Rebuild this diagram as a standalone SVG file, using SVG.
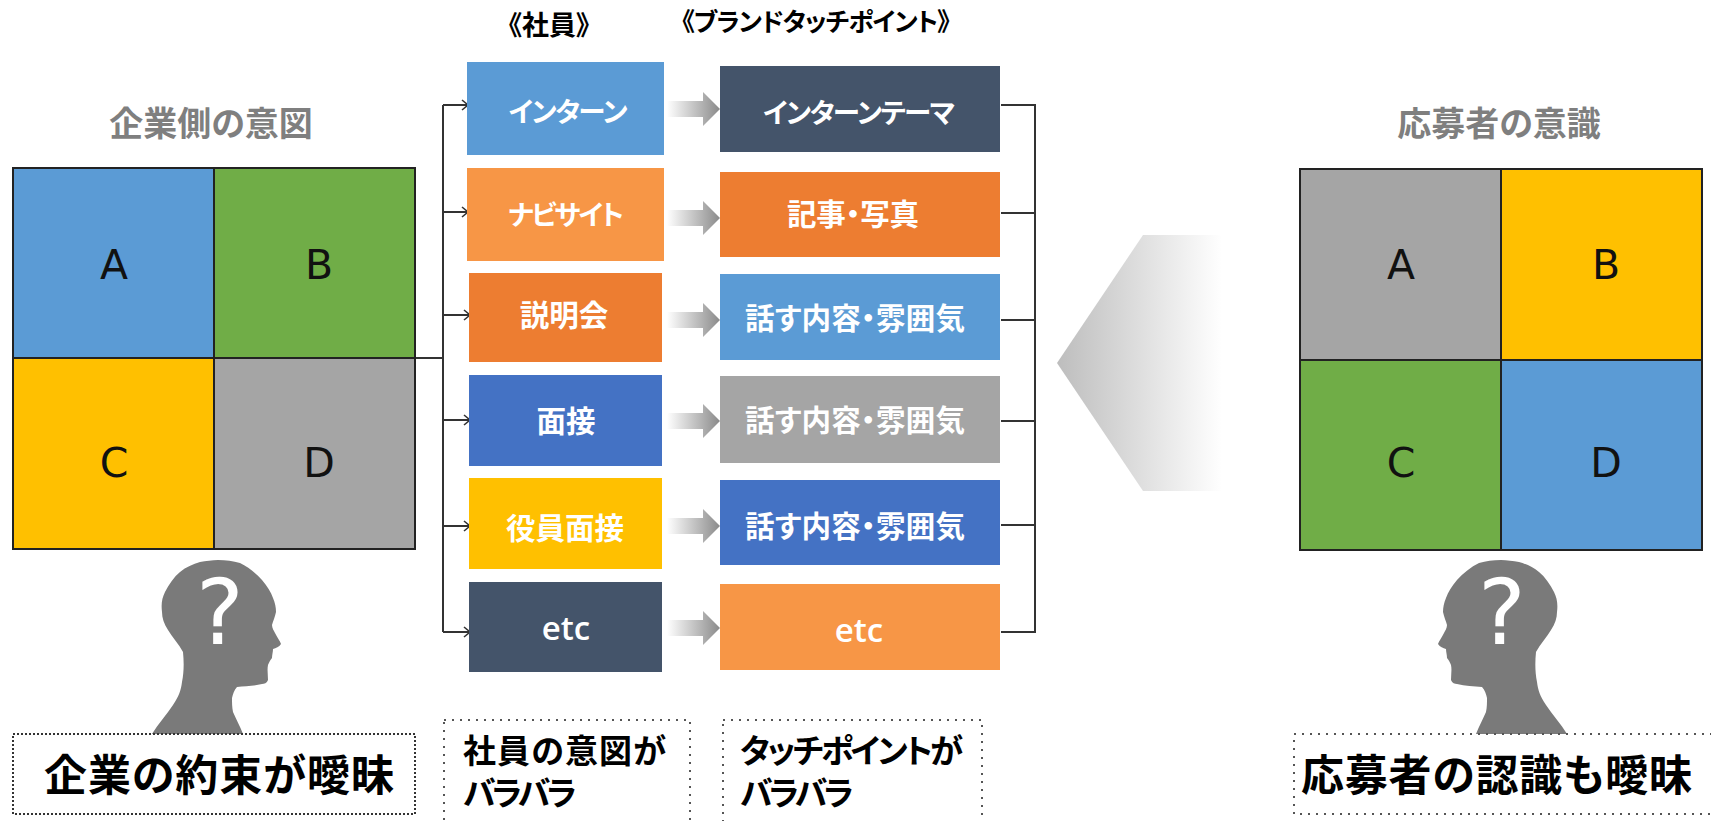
<svg xmlns="http://www.w3.org/2000/svg" xmlns:xlink="http://www.w3.org/1999/xlink" width="1711" height="821" viewBox="0 0 1711 821">
<style>
text{font-family:"Noto Sans CJK JP","Liberation Sans",sans-serif;font-feature-settings:"palt"}
.w{fill:#fff;font-weight:700;font-size:29.5px;text-anchor:middle}
.kana{font-size:27.5px}
.etc{fill:#fff;font-family:"Open Sans","Liberation Sans",sans-serif;font-weight:600;font-size:33px;text-anchor:middle}
.h{fill:#7f7f7f;font-weight:700;font-size:34px;text-anchor:middle}
.hd{fill:#000;font-weight:700;font-size:27px;text-anchor:middle}
.hdk{font-size:25.5px}
.big{fill:#000;font-weight:700;font-size:43px}
.mid{fill:#000;font-weight:700;font-size:33px}
.l{font-family:"DejaVu Sans",sans-serif;font-size:41px;fill:#111;text-anchor:middle}
.q{font-family:"DejaVu Sans",sans-serif;font-size:90px;fill:#fff;text-anchor:middle}
.cell{stroke:#222;stroke-width:2}
.con{fill:none;stroke:#333;stroke-width:2}
.dash{fill:none;stroke:#333;stroke-width:2;stroke-dasharray:2 2}
.dot{fill:none;stroke:#555;stroke-width:2;stroke-dasharray:2 6}
</style>
<defs>
<marker id="open" markerWidth="14" markerHeight="14" refX="11" refY="6" orient="auto" markerUnits="userSpaceOnUse"><path d="M5 1L11 6L5 11" fill="none" stroke="#333" stroke-width="1.6"/></marker>
<linearGradient id="ga"><stop offset="0" stop-color="#fff"/><stop offset="1" stop-color="#8a8a8a"/></linearGradient>
<linearGradient id="gb"><stop offset="0" stop-color="#bdbdbd"/><stop offset="1" stop-color="#fff"/></linearGradient>
<path id="ar" d="M667 -8H703V-17L720 0L703 17V8H667Z" fill="url(#ga)"/>
<path id="head" d="M152 734C158 724 167 714 173 705C179 696 181 690 182 682C184 672 184 662 183 652C179 644 172 637 168 630C164 624 162 618 162 612C161 604 162 598 165 592C169 584 174 577 180 572C186 567 193 564 200 562C206 561 212 560 218 560C226 560 233 561 240 563C248 567 256 573 262 580C267 586 271 592 273 598C275 603 276 607 276 612C275 617 273 621 272 625C272 628 274 631 275 633C277 637 280 641 281 644C279 647 276 648 273 649C273 652 272 655 272 658C270 660 269 663 268 665C267 670 268 675 268 680C267 683 264 684 262 684C254 686 245 686 237 687C234 690 233 694 232 698C232 703 232 707 233 712C236 719 240 726 243 734Z" fill="#7a7a7a"/>
</defs>
<rect width="1711" height="821" fill="#fff"/>

<g id="connectors">
<path class="con" d="M415 358H443"/>
<path class="con" d="M443 105V632"/>
<path class="con" marker-end="url(#open)" d="M443 105H468"/>
<path class="con" marker-end="url(#open)" d="M443 212H468"/>
<path class="con" marker-end="url(#open)" d="M443 315H470"/>
<path class="con" marker-end="url(#open)" d="M443 420H470"/>
<path class="con" marker-end="url(#open)" d="M443 526H470"/>
<path class="con" marker-end="url(#open)" d="M443 632H470"/>
<path class="con" d="M1001 105H1035V632H1001M1001 213H1035M1001 320H1035M1001 421H1035M1001 525H1035"/>
<use xlink:href="#ar" href="#ar" y="109"/>
<use xlink:href="#ar" href="#ar" y="218"/>
<use xlink:href="#ar" href="#ar" y="320"/>
<use xlink:href="#ar" href="#ar" y="421"/>
<use xlink:href="#ar" href="#ar" y="526"/>
<use xlink:href="#ar" href="#ar" y="628"/>
</g>

<g id="big-arrow"><path d="M1057 363L1143 235H1222V491H1143Z" fill="url(#gb)"/></g>

<g id="heading-left"><text class="h" x="211" y="136">企業側の意図</text></g>
<g id="heading-right"><text class="h" x="1499" y="136">応募者の意識</text></g>
<g id="heading-staff"><text class="hd" x="549" y="35">《社員》</text></g>
<g id="heading-touch"><text class="hd hdk" x="816" y="31" textLength="268">《ブランドタッチポイント》</text></g>

<g id="grid-left">
<rect class="cell" x="13" y="168" width="201" height="190" fill="#5b9bd5"/>
<rect class="cell" x="214" y="168" width="201" height="190" fill="#70ad47"/>
<rect class="cell" x="13" y="358" width="201" height="191" fill="#ffc000"/>
<rect class="cell" x="214" y="358" width="201" height="191" fill="#a5a5a5"/>
<text class="l" x="114" y="279">A</text><text class="l" x="319" y="279">B</text>
<text class="l" x="114" y="477">C</text><text class="l" x="319" y="477">D</text>
</g>
<g id="grid-right">
<rect class="cell" x="1300" y="169" width="201" height="191" fill="#a5a5a5"/>
<rect class="cell" x="1501" y="169" width="201" height="191" fill="#ffc000"/>
<rect class="cell" x="1300" y="360" width="201" height="190" fill="#70ad47"/>
<rect class="cell" x="1501" y="360" width="201" height="190" fill="#5b9bd5"/>
<text class="l" x="1401" y="279">A</text><text class="l" x="1606" y="279">B</text>
<text class="l" x="1401" y="477">C</text><text class="l" x="1606" y="477">D</text>
</g>

<g id="staff-1"><rect x="467" y="62" width="197" height="93" fill="#5b9bd5"/><text class="w kana" x="568" y="122" textLength="119">インターン</text></g>
<g id="staff-2"><rect x="467" y="168" width="197" height="93" fill="#f79646"/><text class="w kana" x="566" y="225" textLength="116">ナビサイト</text></g>
<g id="staff-3"><rect x="469" y="273" width="193" height="89" fill="#ed7d31"/><text class="w" x="564" y="326">説明会</text></g>
<g id="staff-4"><rect x="469" y="375" width="193" height="91" fill="#4472c4"/><text class="w" x="566" y="432">面接</text></g>
<g id="staff-5"><rect x="469" y="478" width="193" height="91" fill="#ffc000"/><text class="w" x="565" y="539">役員面接</text></g>
<g id="staff-6"><rect x="469" y="582" width="193" height="90" fill="#44546a"/><text class="etc" x="566" y="640">etc</text></g>

<g id="touch-1"><rect x="720" y="66" width="280" height="86" fill="#44546a"/><text class="w kana" x="859" y="123" textLength="192">インターンテーマ</text></g>
<g id="touch-2"><rect x="720" y="172" width="280" height="85" fill="#ed7d31"/><text class="w" x="853" y="225" textLength="132">記事・写真</text></g>
<g id="touch-3"><rect x="720" y="274" width="280" height="86" fill="#5b9bd5"/><text class="w" x="855" y="329" textLength="220">話す内容・雰囲気</text></g>
<g id="touch-4"><rect x="720" y="376" width="280" height="87" fill="#a5a5a5"/><text class="w" x="855" y="431" textLength="220">話す内容・雰囲気</text></g>
<g id="touch-5"><rect x="720" y="480" width="280" height="85" fill="#4472c4"/><text class="w" x="855" y="537" textLength="220">話す内容・雰囲気</text></g>
<g id="touch-6"><rect x="720" y="584" width="280" height="86" fill="#f79646"/><text class="etc" x="859" y="642">etc</text></g>

<g id="person-left"><use xlink:href="#head" href="#head"/><text class="q" x="220" y="644">?</text></g>
<g id="person-right"><use xlink:href="#head" href="#head" transform="translate(1719 0) scale(-1 1)"/><text class="q" x="1502" y="644">?</text></g>

<g id="note-left"><rect class="dash" x="13" y="734" width="402" height="80"/><text class="big" x="44" y="791" textLength="350">企業の約束が曖昧</text></g>
<g id="note-staff"><rect class="dot" x="444" y="720" width="246" height="104"/><text class="mid" x="463" y="763" textLength="203">社員の意図が</text><text class="mid" x="463" y="805" textLength="114">バラバラ</text></g>
<g id="note-touch"><rect class="dot" x="723" y="720" width="259" height="104"/><text class="mid" x="740" y="763" textLength="223">タッチポイントが</text><text class="mid" x="740" y="805" textLength="114">バラバラ</text></g>
<g id="note-right"><rect class="dot" x="1294" y="734" width="420" height="80"/><text class="big" x="1301" y="791" textLength="391">応募者の認識も曖昧</text></g>
</svg>
